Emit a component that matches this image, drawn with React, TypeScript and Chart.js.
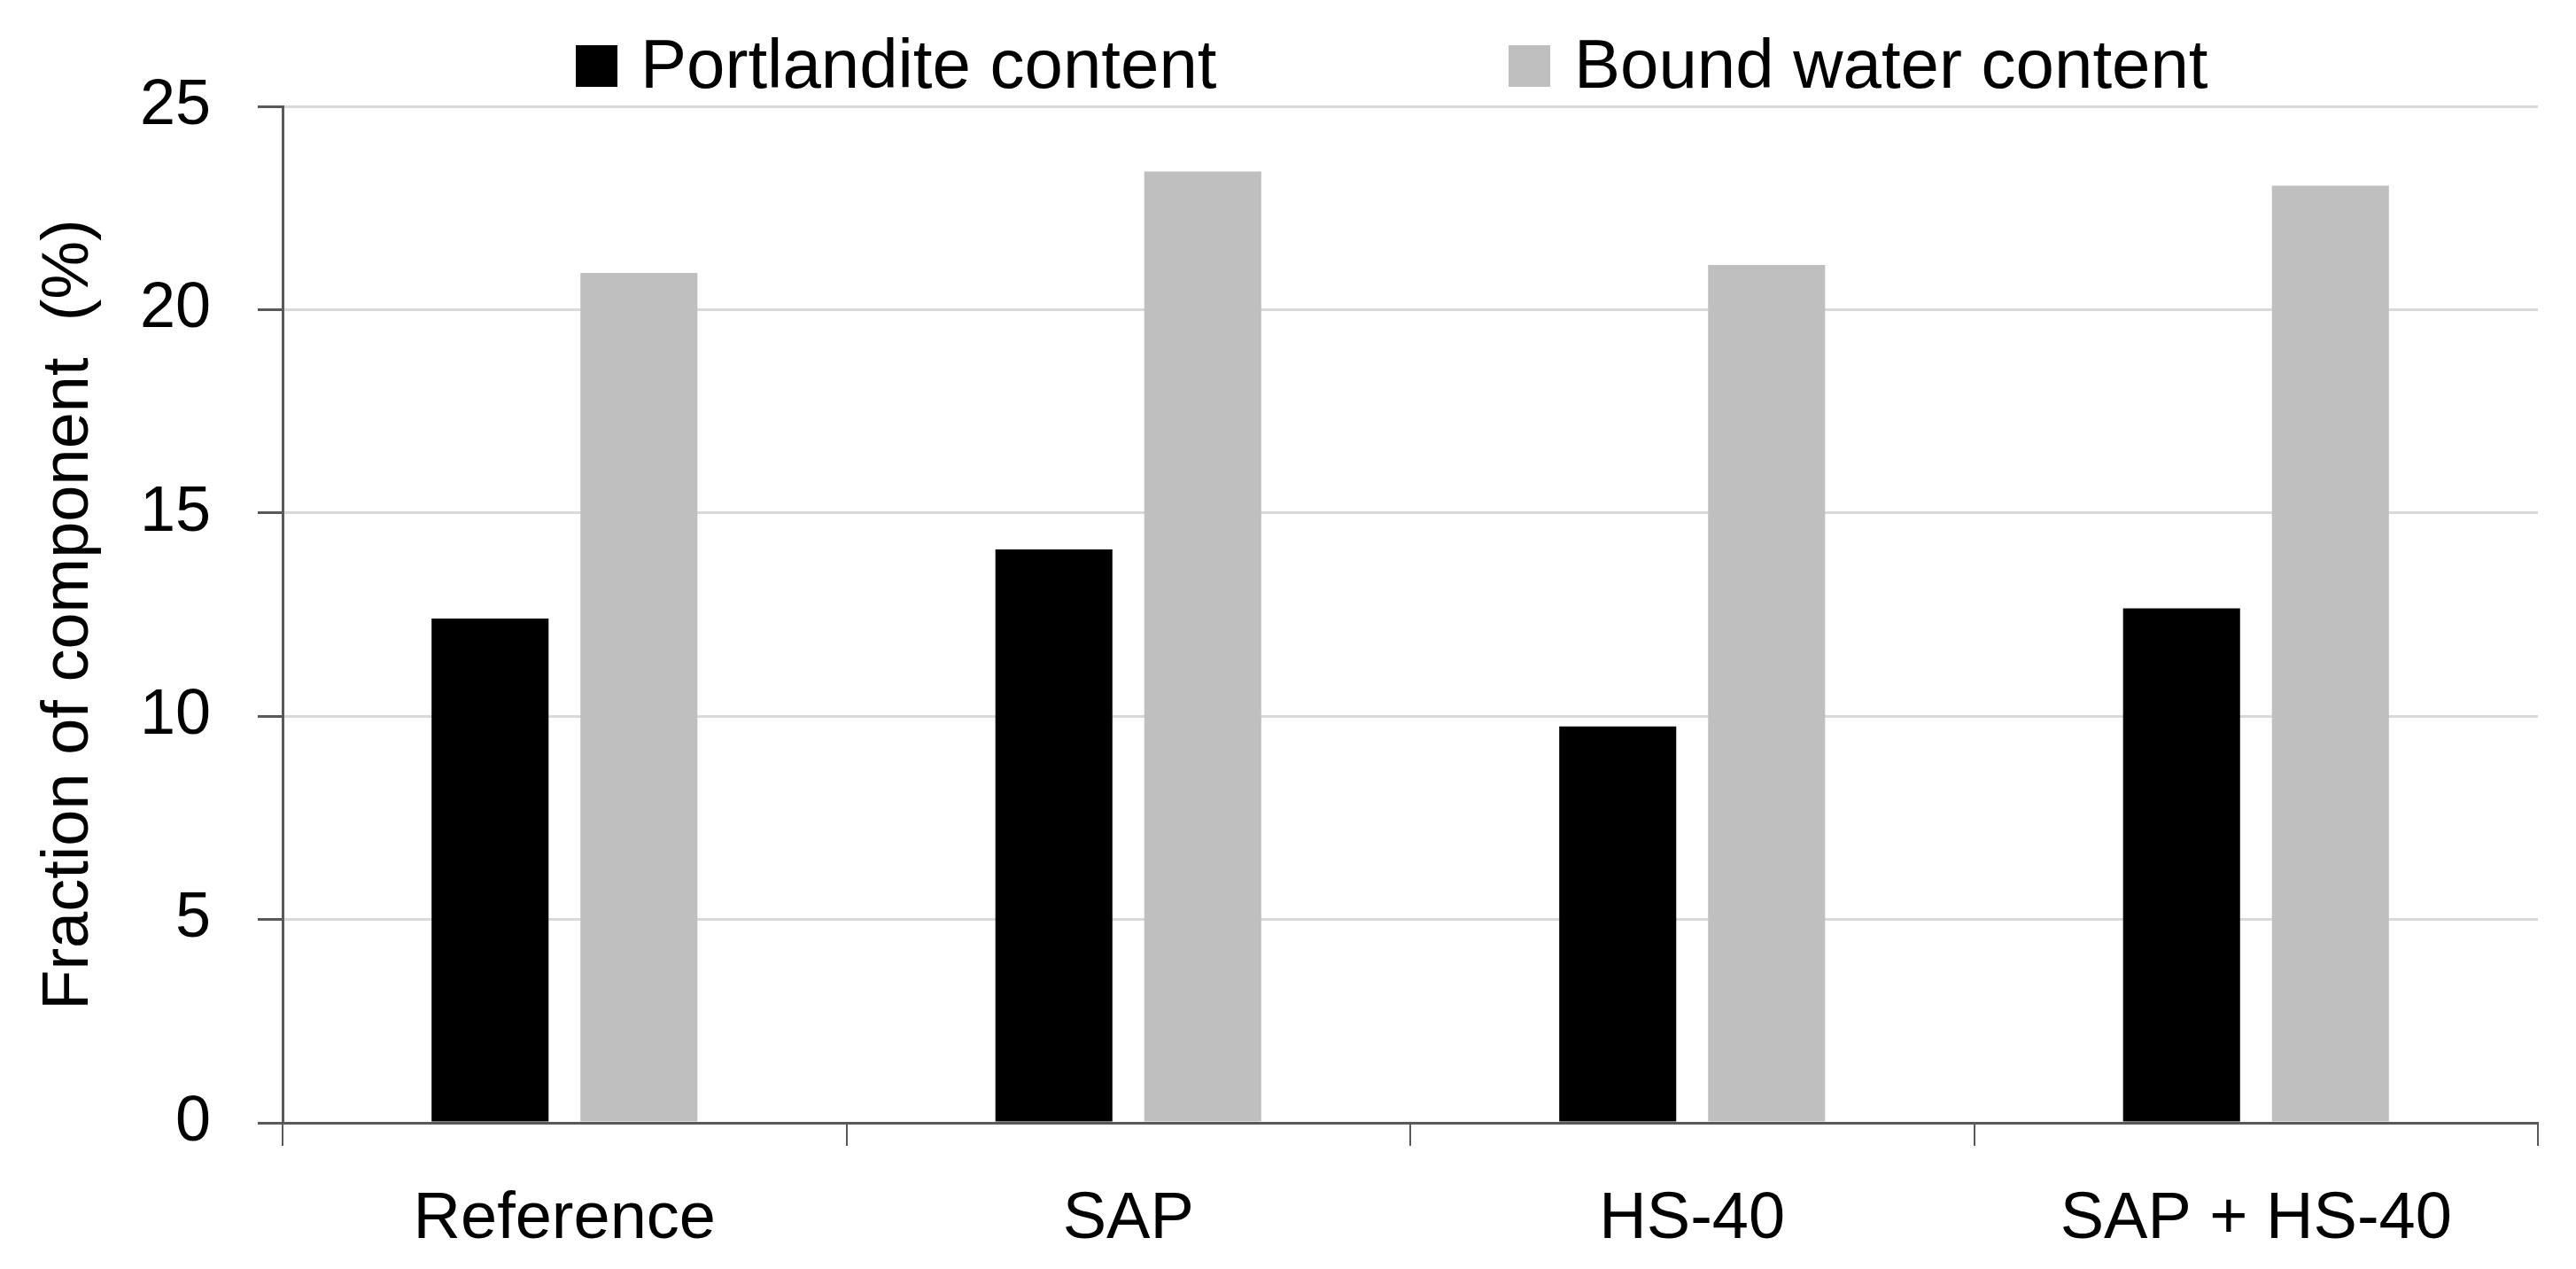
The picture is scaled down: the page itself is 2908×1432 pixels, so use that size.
import React, { useEffect, useRef } from "react";
import { Chart, registerables } from "chart.js";

Chart.register(...registerables);

const categories = ["Reference", "SAP", "HS-40", "SAP + HS-40"];
const portlandite = [12.4, 14.1, 9.75, 12.65];
const boundWater = [20.9, 23.4, 21.1, 23.05];
const seriesLabels = ["Portlandite content", "Bound water content"];
const seriesColors = ["#000000", "#bfbfbf"];
const yMin = 0;
const yMax = 25;
const yStep = 5;
const yTitle = "Fraction of component  (%)";

const W = 2908;
const H = 1432;
const FONT = "'Liberation Sans', Arial, sans-serif";

const legendPlugin = {
  id: "customLegend",
  afterDraw(chart: any) {
    const ctx = chart.ctx;
    const spots = [
      { box: 650, text: 723 },
      { box: 1703, text: 1777 },
    ];
    ctx.save();
    ctx.font = `78px ${FONT}`;
    ctx.textBaseline = "alphabetic";
    ctx.textAlign = "left";
    chart.data.datasets.forEach((ds: any, i: number) => {
      const p = spots[i];
      ctx.fillStyle = ds.backgroundColor;
      ctx.fillRect(p.box, 51, 47, 47);
      ctx.fillStyle = "#000000";
      ctx.fillText(ds.label, p.text, 99);
    });
    ctx.restore();
  },
};

export default function App() {
  const ref = useRef<HTMLCanvasElement | null>(null);

  useEffect(() => {
    if (!ref.current) return;
    Chart.defaults.font.family = FONT;
    const chart = new Chart(ref.current, {
      type: "bar",
      data: {
        labels: categories,
        datasets: [
          {
            label: seriesLabels[0],
            data: portlandite,
            backgroundColor: seriesColors[0],
            borderWidth: 0,
            categoryPercentage: 0.528,
            barPercentage: 0.786,
          },
          {
            label: seriesLabels[1],
            data: boundWater,
            backgroundColor: seriesColors[1],
            borderWidth: 0,
            categoryPercentage: 0.528,
            barPercentage: 0.786,
          },
        ],
      },
      options: {
        responsive: false,
        animation: false,
        devicePixelRatio: 1,
        layout: { padding: { top: 120, left: 0, right: 43, bottom: 0 } },
        plugins: {
          legend: { display: false },
          tooltip: { enabled: false },
        },
        scales: {
          x: {
            grid: {
              display: true,
              drawOnChartArea: false,
              offset: true,
              tickLength: 26,
              color: "#595959",
              lineWidth: 2,
            },
            border: { display: true, color: "#595959", width: 3 },
            ticks: {
              font: { family: FONT, size: 74 },
              color: "#000000",
              padding: 39,
              maxRotation: 0,
              autoSkip: false,
            },
            afterFit: (s: any) => {
              s.height = 165;
            },
          },
          y: {
            min: yMin,
            max: yMax,
            ticks: {
              stepSize: yStep,
              font: { family: FONT, size: 72 },
              color: "#000000",
              padding: 53,
            },
            grid: {
              color: "#d9d9d9",
              lineWidth: 3,
              tickLength: 28,
              tickColor: "#595959",
              tickWidth: 3,
            },
            border: { display: true, color: "#595959", width: 3 },
            title: {
              display: true,
              text: yTitle,
              font: { family: FONT, size: 74 },
              color: "#000000",
              padding: { top: 34, bottom: 0 },
            },
            afterFit: (s: any) => {
              s.width = 319;
            },
          },
        },
      },
      plugins: [legendPlugin],
    });
    return () => chart.destroy();
  }, []);

  return (
    <div style={{ position: "fixed", left: 0, top: 0, width: W, height: H, background: "#ffffff" }}>
      <canvas ref={ref} width={W} height={H} style={{ width: W, height: H, display: "block" }} />
    </div>
  );
}
